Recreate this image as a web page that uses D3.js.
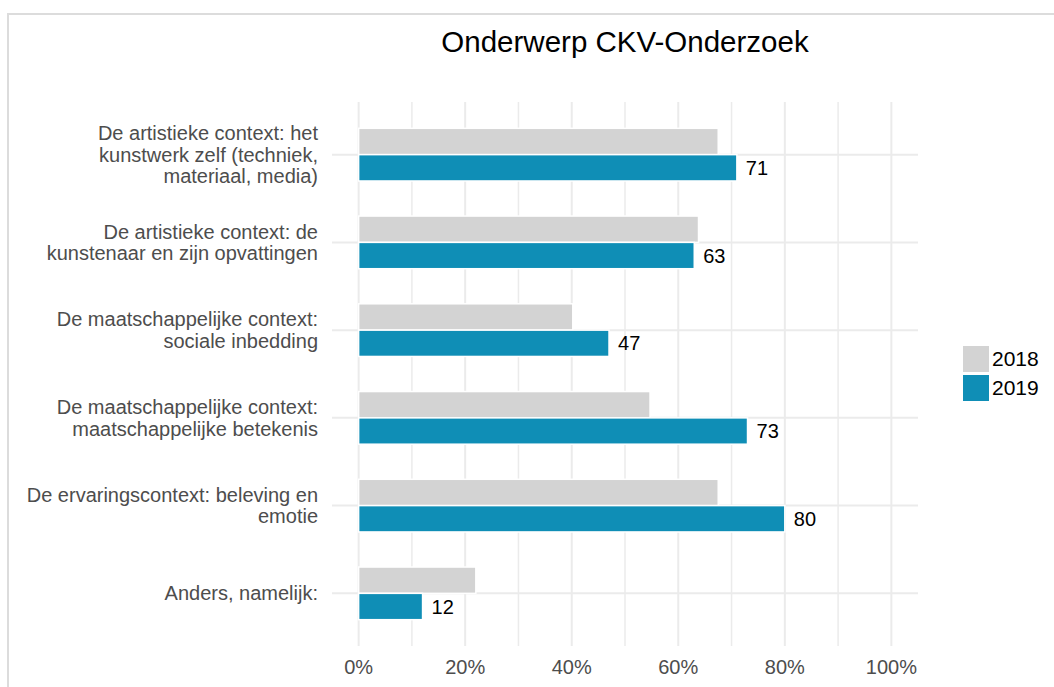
<!DOCTYPE html>
<html>
<head>
<meta charset="utf-8">
<script src="https://cdn.jsdelivr.net/npm/d3@7"></script>
<style>
  body { margin: 0; background: #fff; }
  svg { display: block; font-family: "Liberation Sans", Arial, sans-serif; }
</style>
</head>
<body>
<svg id="chart"></svg>
<script>
// chart data
const categories = [
    ['De artistieke context: het', 'kunstwerk zelf (techniek,', 'materiaal, media)'],
    ['De artistieke context: de', 'kunstenaar en zijn opvattingen'],
    ['De maatschappelijke context:', 'sociale inbedding'],
    ['De maatschappelijke context:', 'maatschappelijke betekenis'],
    ['De ervaringscontext: beleving en', 'emotie'],
    ['Anders, namelijk:']
];
const years = ['2018', '2019'];
const values2018 = [67.5, 63.8, 40.2, 54.7, 67.5, 22];
const values2019 = [71, 63, 47, 73, 80, 12];
const tickValues = [0, 20, 40, 60, 80, 100];
const gridValues = [0, 10, 20, 30, 40, 50, 60, 70, 80, 90, 100];
const chartTitle = 'Onderwerp CKV-Onderzoek';

const width = 1054, height = 687;
const panel = { left: 332, right: 918, top: 102, bottom: 646 };
const colors = { '2018': '#d3d3d3', '2019': '#0f8eb6' };

const svg = d3.select('#chart')
    .attr('width', width)
    .attr('height', height);

// outer frame (cropped on the right and bottom)
svg.append('rect')
    .attr('x', 8).attr('y', 14)
    .attr('width', 1100).attr('height', 700)
    .attr('fill', 'none')
    .attr('stroke', '#dcdcdc')
    .attr('stroke-width', 2);

const ids = categories.map((d, i) => 'c' + i);

// scales
const x = d3.scaleLinear()
    .domain([-5, 105])
    .range([panel.left, panel.right]);

const y = d3.scalePoint()
    .domain(ids)
    .range([panel.top, panel.bottom])
    .padding(0.6);

// dodged bars, total width 0.6 of a category step
const barWidth = y.step() * 0.6;
const sub = d3.scaleBand()
    .domain(years)
    .range([-barWidth / 2, barWidth / 2]);

// grid
const grid = svg.append('g');
grid.selectAll('line.v')
    .data(gridValues)
    .join('line')
    .attr('class', 'v')
    .attr('x1', d => x(d)).attr('x2', d => x(d))
    .attr('y1', panel.top).attr('y2', panel.bottom)
    .attr('stroke', '#ebebeb')
    .attr('stroke-width', d => d % 20 === 0 ? 2 : 1.5);

grid.selectAll('line.h')
    .data(ids)
    .join('line')
    .attr('class', 'h')
    .attr('x1', panel.left).attr('x2', panel.right)
    .attr('y1', d => y(d)).attr('y2', d => y(d))
    .attr('stroke', '#ebebeb')
    .attr('stroke-width', 2);

// bars
const rows = ids.map((id, i) => ({ id, '2018': values2018[i], '2019': values2019[i] }));

const groups = svg.append('g').selectAll('g')
    .data(rows)
    .join('g')
    .attr('transform', d => `translate(0,${y(d.id)})`);

groups.selectAll('rect')
    .data(d => years.map(yr => ({ year: yr, value: d[yr] })))
    .join('rect')
    .attr('x', x(0))
    .attr('y', d => sub(d.year))
    .attr('width', d => x(d.value) - x(0))
    .attr('height', sub.bandwidth())
    .attr('fill', d => colors[d.year])
    .attr('stroke', '#fff')
    .attr('stroke-width', 1.5);

// value labels for 2019
groups.append('text')
    .attr('x', d => x(d['2019']) + 9)
    .attr('y', sub('2019') + sub.bandwidth() / 2)
    .attr('dy', '0.35em')
    .attr('font-size', 20)
    .attr('fill', '#000')
    .text(d => Math.round(d['2019']));

// category labels
const lineHeight = 21.7;
svg.append('g').selectAll('text')
    .data(categories)
    .join('text')
    .attr('text-anchor', 'end')
    .attr('font-size', 20)
    .attr('fill', '#4d4d4d')
    .attr('transform', (d, i) => `translate(318,${y(ids[i])})`)
    .each(function (lines) {
        const t = d3.select(this);
        lines.forEach((ln, j) => {
            t.append('tspan')
                .attr('x', 0)
                .attr('y', (j - (lines.length - 1) / 2) * lineHeight)
                .attr('dy', '0.35em')
                .text(ln);
        });
    });

// x axis tick labels
svg.append('g').selectAll('text')
    .data(tickValues)
    .join('text')
    .attr('x', d => x(d))
    .attr('y', 667)
    .attr('dy', '0.35em')
    .attr('text-anchor', 'middle')
    .attr('font-size', 20)
    .attr('fill', '#4d4d4d')
    .text(d => d + '%');

// title
svg.append('text')
    .attr('x', (panel.left + panel.right) / 2)
    .attr('y', 52)
    .attr('text-anchor', 'middle')
    .attr('font-size', 29.5)
    .attr('fill', '#000')
    .text(chartTitle);

// legend
const legend = svg.append('g')
    .attr('transform', `translate(963,${(panel.top + panel.bottom) / 2 - 28})`);

const items = legend.selectAll('g')
    .data(years)
    .join('g')
    .attr('transform', (d, i) => `translate(0,${i * 29})`);

items.append('rect')
    .attr('width', 26).attr('height', 26)
    .attr('fill', d => colors[d]);

items.append('text')
    .attr('x', 29)
    .attr('y', 13)
    .attr('dy', '0.35em')
    .attr('font-size', 21)
    .attr('fill', '#000')
    .text(d => d);
</script>
</body>
</html>
